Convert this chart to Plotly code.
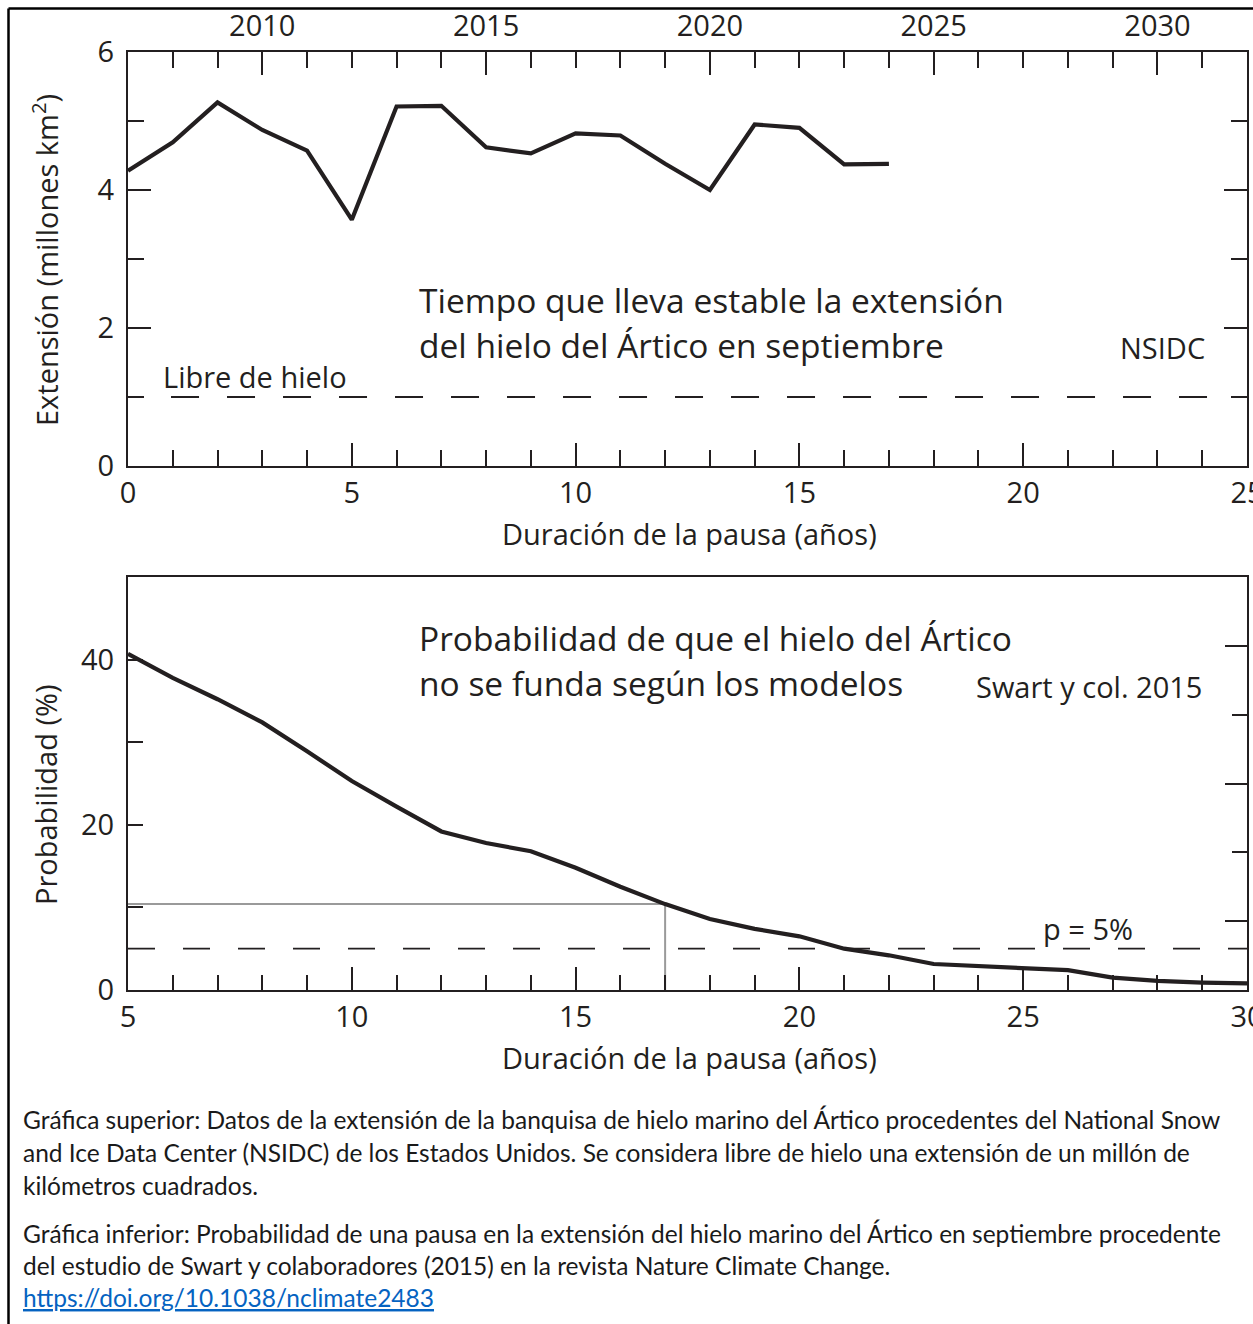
import plotly.graph_objects as go

# ---------------- data ----------------
years = list(range(2007, 2025))
extent_sept = [4.28, 4.69, 5.27, 4.87, 4.57, 3.57, 5.21, 5.22, 4.62, 4.53,
               4.82, 4.79, 4.38, 4.00, 4.95, 4.90, 4.37, 4.38]
ice_free_level = 1.0

pause_years_bottom = list(range(5, 31))
probability = [40.7, 37.8, 35.2, 32.4, 28.9, 25.3, 22.2, 19.2, 17.8, 16.8,
               14.8, 12.5, 10.4, 8.6, 7.4, 6.5, 5.0, 4.2, 3.15, 2.9,
               2.7, 2.4, 1.5, 1.1, 0.9, 0.8]
p_level = 5.0
current_pause = 17
current_prob = 10.4

year_ticks = [2010, 2015, 2020, 2025, 2030]
pause_ticks_top = [0, 5, 10, 15, 20, 25]
pause_ticks_bottom = [5, 10, 15, 20, 25, 30]
prob_ticks = [0, 20, 40]
prob_minor_ticks = [10, 30]

# ---------------- layout helpers ----------------
W, H = 1253, 1324
L, R, T, B = 128, 1247, 52, 990
INK = "#231f20"
FONT = "Open Sans"
CAP_FONT = "Lato"


def px(xp):
    return (xp - L) / (R - L)


def py(yp):
    return (B - yp) / (B - T)


fig = go.Figure()

# top panel: dashed ice-free line (on right overlay axis, same scale)
fig.add_trace(go.Scatter(x=[-0.29, 25], y=[ice_free_level, ice_free_level],
                         mode="lines", line=dict(color=INK, width=1.8, dash="28px,28px"),
                         xaxis="x", yaxis="y3", hoverinfo="skip", showlegend=False))
# extent vs year (top year axis)
fig.add_trace(go.Scatter(x=years, y=extent_sept, mode="lines",
                         line=dict(color=INK, width=4.2), xaxis="x3", yaxis="y",
                         showlegend=False))
# invisible helper so the primary x/y subplot exists
fig.add_trace(go.Scatter(x=[0, 25], y=[ice_free_level, ice_free_level], mode="lines",
                         line=dict(width=0), xaxis="x", yaxis="y", hoverinfo="skip",
                         showlegend=False))

# bottom panel
fig.add_trace(go.Scatter(x=[5, 30], y=[p_level, p_level], mode="lines",
                         line=dict(color=INK, width=1.8, dash="27px,28px"),
                         xaxis="x2", yaxis="y4", hoverinfo="skip", showlegend=False))
fig.add_trace(go.Scatter(x=[5, current_pause, current_pause], y=[current_prob, current_prob, 0],
                         mode="lines", line=dict(color="#9a9a9a", width=2),
                         xaxis="x2", yaxis="y2", hoverinfo="skip", showlegend=False))
fig.add_trace(go.Scatter(x=pause_years_bottom, y=probability, mode="lines",
                         line=dict(color=INK, width=4.2), xaxis="x2", yaxis="y2",
                         showlegend=False))

top_dom = [py(466), 1.0]
bot_dom = [0.0, py(577)]

TF = dict(family=FONT, size=29, color=INK)
axis_common = dict(showline=True, linecolor=INK, linewidth=2, ticks="inside",
                   tickcolor=INK, tickwidth=2, showgrid=False, zeroline=False,
                   tickfont=TF, fixedrange=True, automargin=False)

right_major = [50 * k / 6 for k in (1, 3, 5)]
right_minor = [50 * k / 6 for k in (2, 4)]

fig.update_layout(
    width=W, height=H, autosize=False,
    margin=dict(l=L, r=W - R, t=T, b=H - B, pad=0, autoexpand=False),
    paper_bgcolor="white", plot_bgcolor="white",
    showlegend=False,
    xaxis=dict(axis_common, domain=[0, 1], anchor="y", range=[0, 25],
               tickvals=pause_ticks_top, ticklen=23, ticklabelstandoff=0,
               ticklabeloverflow="allow",
               minor=dict(ticks="inside", dtick=1, tick0=0, ticklen=16,
                          tickcolor=INK, tickwidth=2)),
    yaxis=dict(axis_common, domain=top_dom, anchor="x", range=[0, 6],
               tickvals=[0, 2, 4, 6], ticklen=23, ticklabelstandoff=6,
               minor=dict(ticks="inside", dtick=1, tick0=0, ticklen=16,
                          tickcolor=INK, tickwidth=2)),
    xaxis3=dict(axis_common, overlaying="x", side="top", anchor="y", range=[2007, 2032],
                tickvals=year_ticks, ticklen=23, ticklabelstandoff=2,
                ticklabeloverflow="allow",
                minor=dict(ticks="inside", dtick=1, tick0=2007, ticklen=16,
                           tickcolor=INK, tickwidth=2)),
    yaxis3=dict(axis_common, overlaying="y", side="right", anchor="x", range=[0, 6],
                tickvals=[0, 2, 4, 6], ticklen=23, showticklabels=False,
                minor=dict(ticks="inside", dtick=1, tick0=0, ticklen=16,
                           tickcolor=INK, tickwidth=2)),
    xaxis2=dict(axis_common, domain=[0, 1], anchor="y2", range=[5, 30],
                tickvals=pause_ticks_bottom, ticklen=23, mirror=True, ticklabelstandoff=0,
                ticklabeloverflow="allow",
                minor=dict(ticks="inside", dtick=1, tick0=5, ticklen=15,
                           tickcolor=INK, tickwidth=2)),
    yaxis2=dict(axis_common, domain=bot_dom, anchor="x2", range=[0, 50],
                tickvals=prob_ticks, ticklen=15, ticklabelstandoff=6,
                minor=dict(ticks="inside", tickvals=prob_minor_ticks, ticklen=15,
                           tickcolor=INK, tickwidth=2)),
    yaxis4=dict(axis_common, overlaying="y2", side="right", anchor="x2", range=[0, 50],
                tickvals=right_major, ticklen=22, showticklabels=False,
                minor=dict(ticks="inside", tickvals=right_minor, ticklen=15,
                           tickcolor=INK, tickwidth=2)),
)

ann = []


def text(x, y, s, size, xanchor="left", font=FONT, color=INK, angle=0):
    ann.append(dict(x=px(x), y=py(y), xref="paper", yref="paper", text=s,
                    showarrow=False, xanchor=xanchor, yanchor="middle",
                    textangle=angle,
                    font=dict(family=font, size=size, color=color)))


# top panel texts
text(417, 300, "Tiempo que lleva estable la extensión", 33.5)
text(417, 345, "del hielo del Ártico en septiembre", 33.5)
text(1207, 348, "NSIDC", 29, xanchor="right")
text(161, 376, "Libre de hielo", 29)
text(689, 533, "Duración de la pausa (años)", 29, xanchor="center")
text(45, 260, "Extensión (millones km<sup>2</sup>)", 29, xanchor="center", angle=-90)

# bottom panel texts
text(417, 638, "Probabilidad de que el hielo del Ártico", 33.5)
text(417, 683, "no se funda según los modelos", 33.5)
text(1204, 686, "Swart y col. 2015", 29, xanchor="right")
text(1041, 928, "p = 5%", 29)
text(689, 1057, "Duración de la pausa (años)", 29, xanchor="center")
text(45, 795, "Probabilidad (%)", 29, xanchor="center", angle=-90)

# caption
cap = [
    (1119, "Gráfica superior: Datos de la extensión de la banquisa de hielo marino del Ártico procedentes del National Snow"),
    (1152, "and Ice Data Center (NSIDC) de los Estados Unidos. Se considera libre de hielo una extensión de un millón de"),
    (1185, "kilómetros cuadrados."),
    (1233, "Gráfica inferior: Probabilidad de una pausa en la extensión del hielo marino del Ártico en septiembre procedente"),
    (1265, "del estudio de Swart y colaboradores (2015) en la revista Nature Climate Change."),
]
for y, s in cap:
    text(21, y, s, 24.5, font=CAP_FONT, color="#1a1a1a")
text(21, 1297, "<u>https://doi.org/10.1038/nclimate2483</u>", 24.5, font=CAP_FONT, color="#0563c1")

fig.update_layout(annotations=ann)

# outer frame
fig.add_shape(type="line", xref="paper", yref="paper", x0=px(8.5), x1=px(1270),
              y0=py(8.5), y1=py(8.5), line=dict(color="black", width=2.5))
fig.add_shape(type="line", xref="paper", yref="paper", x0=px(8.5), x1=px(8.5),
              y0=py(8.5), y1=py(1340), line=dict(color="black", width=2.5))

fig.write_html("out.html",
               config={"responsive": False, "displayModeBar": False},
               post_script="document.body.style.margin='0';"
                           "document.body.style.overflow='hidden';")
